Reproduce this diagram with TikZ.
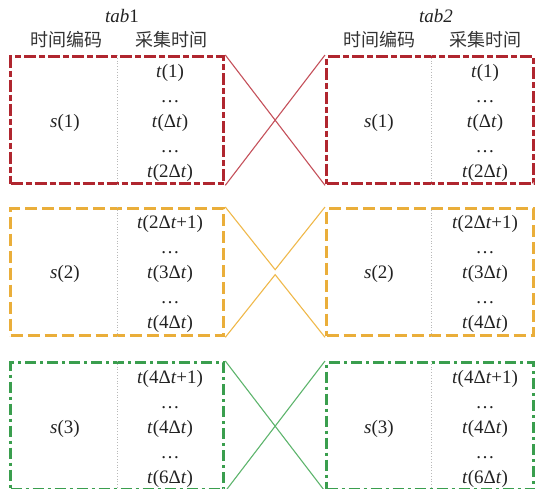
\documentclass[tikz,border=0pt]{standalone}
\usepackage{fontspec}
\setmainfont{Liberation Serif}
\newfontfamily\cjk{Noto Sans CJK SC}
\usetikzlibrary{calc}

\definecolor{ink}{HTML}{222222}
\definecolor{hink}{HTML}{333333}
\definecolor{cred}{HTML}{B0262F}
\definecolor{lred}{HTML}{C4505A}
\definecolor{cyel}{HTML}{EAAE3A}
\definecolor{lyel}{HTML}{EFB84A}
\definecolor{cgrn}{HTML}{3A9E4E}
\definecolor{lgrn}{HTML}{5DB46C}

\newcommand\tvar{\textit{t}}

% one column pair: name prefix, x of s-column, x of t-column, top of frame,
% s label, first, middle and last time stamp
\newcommand\cellcol[8]{%
  \node[cell] (#1s) at (#2,#4+67) {#5};
  \node[cell] (#1a) at (#3,#4+17) {#6};
  \node[cell] (#1b) at (#3,#4+42) {\dots};
  \node[cell] (#1c) at (#3,#4+67) {#7};
  \node[cell] (#1d) at (#3,#4+92) {\dots};
  \node[cell] (#1e) at (#3,#4+117) {#8};
}

\begin{document}
\begin{tikzpicture}[x=1pt,y=-1pt,
  frame/.style={draw, line width=3.3pt, inner sep=0pt, minimum height=127pt, anchor=north west},
  lframe/.style={frame, minimum width=213pt},
  rframe/.style={frame, minimum width=207pt},
  redline/.style={draw=cred, dash pattern=on 12pt off 3pt on 6pt off 3pt},
  yelline/.style={draw=cyel, dash pattern=on 12pt off 5pt},
  grnline/.style={draw=cgrn, dash pattern=on 11pt off 4pt on 3pt off 4pt},
  cell/.style={inner sep=0pt, text height=14pt, text depth=4pt, font=\fontsize{19}{22}\selectfont, text=ink},
  head/.style={inner sep=0pt, font=\cjk\fontsize{18}{22}\selectfont, text=hink},
  divider/.style={draw=gray!55, line width=0.8pt, dotted},
  link/.style={line width=1.1pt},
]
\useasboundingbox (0,0) rectangle (535,488);

% table titles and column headers
\node[cell] (tab1) at (122,17) {\textit{tab}1};
\node[cell] (tab2) at (436,17) {\textit{tab2}};
\node[head] (h1) at (66,40) {时间编码};
\node[head] (h2) at (171,40) {采集时间};
\node[head] (h3) at (379,40) {时间编码};
\node[head] (h4) at (485,40) {采集时间};

% frames
\node[lframe, redline] (L1) at (9,55) {};
\node[rframe, redline] (R1) at (325,55) {};
\node[lframe, yelline] (L2) at (9,207) {};
\node[rframe, yelline] (R2) at (325,207) {};
\node[lframe, grnline] (L3) at (9,361) {};
\node[rframe, grnline] (R3) at (325,361) {};

% dotted column dividers
\foreach \b/\d in {L1/108, L2/108, L3/108, R1/106, R2/106, R3/106}{
  \draw[divider] ($(\b.north west)+(\d,0)$) -- ($(\b.south west)+(\d,0)$);
}

% links between the tables
\draw[link, draw=lred] (L1.north east) -- (R1.south west);
\draw[link, draw=lred] (L1.south east) -- (R1.north west);
\coordinate (m2a) at ($(L2.north east)!0.5!(R2.south west)+(0,-2.5)$);
\coordinate (m2b) at ($(L2.north east)!0.5!(R2.south west)+(0,2.5)$);
\draw[link, draw=lyel] (L2.north east) -- (m2a) -- (R2.north west);
\draw[link, draw=lyel] (L2.south east) -- (m2b) -- (R2.south west);
\draw[link, draw=lgrn] (L3.north east) -- (R3.south west);
\draw[link, draw=lgrn] (L3.south east) -- (R3.north west);

% cell contents
\cellcol{a1}{65}{170}{55}{\textit{s}(1)}{\tvar(1)}{\tvar(Δ\tvar)}{\tvar(2Δ\tvar)}
\cellcol{b1}{379}{485}{55}{\textit{s}(1)}{\tvar(1)}{\tvar(Δ\tvar)}{\tvar(2Δ\tvar)}
\cellcol{a2}{65}{170}{206}{\textit{s}(2)}{\tvar(2Δ\tvar+1)}{\tvar(3Δ\tvar)}{\tvar(4Δ\tvar)}
\cellcol{b2}{379}{485}{206}{\textit{s}(2)}{\tvar(2Δ\tvar+1)}{\tvar(3Δ\tvar)}{\tvar(4Δ\tvar)}
\cellcol{a3}{65}{170}{361}{\textit{s}(3)}{\tvar(4Δ\tvar+1)}{\tvar(4Δ\tvar)}{\tvar(6Δ\tvar)}
\cellcol{b3}{379}{485}{361}{\textit{s}(3)}{\tvar(4Δ\tvar+1)}{\tvar(4Δ\tvar)}{\tvar(6Δ\tvar)}
\end{tikzpicture}
\end{document}
